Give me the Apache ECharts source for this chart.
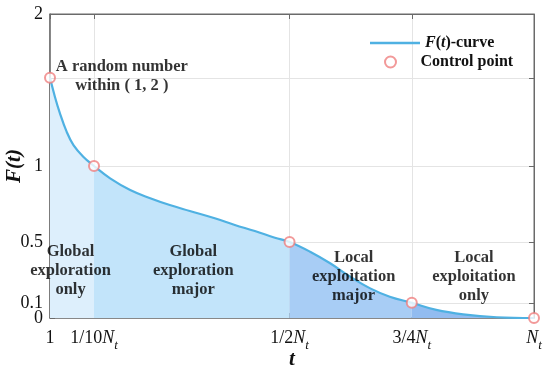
<!DOCTYPE html>
<html>
<head>
<meta charset="utf-8">
<script src="https://cdn.jsdelivr.net/npm/echarts@6/dist/echarts.min.js"></script>
<style>
html,body{margin:0;padding:0;background:#fff;}
#c{width:550px;height:376px;}
</style>
</head>
<body>
<div id="c"></div>
<script>
// ---- data ----
const curveT = [1, 2, 3, 4.4, 5.8, 7.8, 10, 13.3, 17.4, 21.5, 25.5, 29.6, 34.7, 38.8, 42.9, 47, 50, 54.2, 58.3, 62.4, 66.5, 70.5, 75, 80, 85.5, 92.4, 100];
const curveF = [1.58, 1.456, 1.35, 1.226, 1.138, 1.061, 1.0, 0.919, 0.842, 0.788, 0.743, 0.704, 0.656, 0.612, 0.572, 0.528, 0.5, 0.436, 0.36, 0.272, 0.195, 0.14, 0.1, 0.053, 0.024, 0.005, 0];
const controlT = [1, 10, 50, 75, 100];
const controlF = [1.58, 1, 0.5, 0.1, 0];
const regionBounds = [[1, 10], [10, 50], [50, 75], [75, 100]];
const xTickValues = [1, 10, 50, 75, 100];
const xTickLabels = ['1', '1/10{n|N}{s|t}', '1/2{n|N}{s|t}', '3/4{n|N}{s|t}', '{n|N}{s|t}'];
const yTickValues = [0, 0.1, 0.5, 1, 2];
const yTickLabels = ['0', '0.1', '0.5', '1', '2'];
const yExtraTick = [1.58];
const annotationTexts = [
  'A random number\nwithin ( 1, 2 )',
  'Global\nexploration\nonly',
  'Global\nexploration\nmajor',
  'Local\nexploitation\nmajor',
  'Local\nexploitation\nonly'
];
const annotationAnchors = [[15.7, 1.59], [5.2, 0.31], [30.3, 0.31], [63.1, 0.27], [87.7, 0.27]];

// ---- styles ----
const regionColors = ['#ddeffc', '#c2e4fa', '#a8cdf5', '#92bcf0'];
const lineColor = '#4fb1e2';
const pointColor = '#ef8080';
const serif = '"Liberation Serif", "DejaVu Serif", serif';
const axisColor = '#6a6a6a';
const textColor = '#111';

const curve = curveT.map((t, i) => [t, curveF[i]]);
const regionSeries = regionBounds.map((b, k) => ({
  type: 'line',
  name: 'region' + k,
  data: curve.filter(p => p[0] >= b[0] && p[0] <= b[1]),
  smooth: 0.4,
  symbol: 'none',
  silent: true,
  lineStyle: { width: 0 },
  areaStyle: { color: regionColors[k], opacity: 1 },
  z: 1
}));

const labelMap = {};
xTickValues.forEach((v, i) => labelMap[v] = xTickLabels[i]);
const yLabelMap = {};
yTickValues.forEach((v, i) => yLabelMap[v] = yTickLabels[i]);
// labels split over two overlaid axes so the close pair 0 / 0.1 are both kept
const yMainLabels = yTickValues.filter(v => v !== 0.1);
const yAuxLabels = yTickValues.filter(v => v === 0.1);

const xRich = {
  m: { fontFamily: serif, fontSize: 18, lineHeight: 27, color: textColor },
  n: { fontFamily: serif, fontSize: 18, fontStyle: 'italic', lineHeight: 27, color: textColor },
  s: { fontFamily: serif, fontSize: 13, fontStyle: 'italic', lineHeight: 13, padding: [14, 0, 0, 0], color: textColor }
};
const legendText = {
  fontFamily: serif, fontSize: 16, fontWeight: 'bold', color: textColor,
  rich: {
    i: { fontFamily: serif, fontSize: 16, fontWeight: 'bold', fontStyle: 'italic', color: textColor },
    b: { fontFamily: serif, fontSize: 16, fontWeight: 'bold', color: textColor }
  }
};
const yLabelStyle = { fontFamily: serif, fontSize: 18, color: textColor };

const option = {
  animation: false,
  backgroundColor: '#fff',
  grid: { left: 50, right: 16, top: 14, bottom: 58, containLabel: false, outerBoundsMode: 'none',
          show: true, borderColor: axisColor, borderWidth: 1, backgroundColor: 'transparent' },
  legend: [{
    data: [{ name: 'F(t)-curve', icon: 'rect' }],
    left: 365, top: 30,
    itemWidth: 50, itemHeight: 2.5,
    textStyle: legendText,
    formatter: () => '{i|F}{b|(}{i|t}{b|)-curve}'
  }, {
    data: [{ name: 'Control point', icon: 'emptyCircle' }],
    left: 379, top: 49,
    itemWidth: 50, itemHeight: 11,
    textStyle: legendText,
    formatter: name => '{b|' + name + '}'
  }],
  xAxis: [{
    type: 'value', min: 1, max: 100, position: 'bottom',
    name: 't', nameLocation: 'middle', nameGap: 31, nameMoveOverlap: false,
    nameTextStyle: { fontFamily: serif, fontSize: 21, fontWeight: 'bold', fontStyle: 'italic', color: textColor },
    axisLine: { show: true, onZero: false, lineStyle: { color: axisColor, width: 1.5 } },
    axisTick: { show: true, inside: true, length: 5, customValues: xTickValues, lineStyle: { color: axisColor } },
    axisLabel: {
      customValues: xTickValues, margin: 7, hideOverlap: false, showMinLabel: true, showMaxLabel: true,
      formatter: v => labelMap[v] !== undefined ? labelMap[v] : '',
      rich: xRich, fontFamily: serif, fontSize: 18, lineHeight: 27, color: textColor
    },
    splitLine: { show: true, lineStyle: { color: '#e4e4e4', width: 1 } }
  }, {
    type: 'value', min: 1, max: 100, position: 'top',
    axisLine: { show: true, onZero: false, lineStyle: { color: axisColor, width: 1 } },
    axisTick: { show: true, inside: true, length: 5, customValues: xTickValues, lineStyle: { color: axisColor } },
    axisLabel: { show: false },
    splitLine: { show: false }
  }],
  yAxis: [{
    type: 'value', min: 0, max: 2, position: 'left',
    name: 'F(t)', nameLocation: 'middle', nameGap: 25, nameRotate: 90, nameMoveOverlap: false,
    nameTextStyle: { fontFamily: serif, fontSize: 21, fontWeight: 'bold', fontStyle: 'italic', color: textColor },
    axisLine: { show: true, onZero: false, lineStyle: { color: axisColor, width: 1.5 } },
    axisTick: { show: true, inside: true, length: 5, customValues: yTickValues.concat(yExtraTick), lineStyle: { color: axisColor } },
    axisLabel: Object.assign({
      customValues: yMainLabels, margin: 7, hideOverlap: false, showMinLabel: true, showMaxLabel: true,
      formatter: v => yLabelMap[v] !== undefined ? yLabelMap[v] : ''
    }, yLabelStyle),
    splitLine: { show: true, lineStyle: { color: '#e4e4e4', width: 1 } }
  }, {
    type: 'value', min: 0, max: 2, position: 'right',
    axisLine: { show: true, onZero: false, lineStyle: { color: axisColor, width: 1 } },
    axisTick: { show: true, inside: true, length: 5, customValues: yTickValues.concat(yExtraTick), lineStyle: { color: axisColor } },
    axisLabel: { show: false },
    splitLine: { show: false }
  }, {
    type: 'value', min: 0, max: 2, position: 'left', offset: 0,
    axisLine: { show: false, onZero: false },
    axisTick: { show: false },
    axisLabel: Object.assign({
      customValues: yAuxLabels, margin: 7, hideOverlap: false, showMinLabel: true, showMaxLabel: true,
      formatter: v => yLabelMap[v] !== undefined ? yLabelMap[v] : ''
    }, yLabelStyle),
    splitLine: { show: false }
  }],
  series: regionSeries.concat([
    {
      type: 'line', name: 'F(t)-curve',
      data: curve, smooth: 0.4, symbol: 'none',
      lineStyle: { color: lineColor, width: 2.2 },
      itemStyle: { color: lineColor },
      z: 3
    },
    {
      type: 'scatter', name: 'Control point',
      data: controlT.map((t, i) => [t, controlF[i]]),
      symbol: 'emptyCircle', symbolSize: 10,
      itemStyle: { color: pointColor, borderColor: pointColor, borderWidth: 2 },
      z: 4
    },
    {
      type: 'scatter', name: 'annotations', silent: true,
      data: annotationAnchors.map((a, i) => ({ value: a, label: { formatter: annotationTexts[i] } })),
      symbolSize: 0,
      label: {
        show: true, position: 'inside', align: 'center', verticalAlign: 'middle',
        fontFamily: serif, fontSize: 16.5, fontWeight: 'bold', lineHeight: 19, color: '#000'
      },
      z: 5
    }
  ])
};

const chart = echarts.init(document.getElementById('c'), null, { renderer: 'canvas' });
chart.setOption(option);
</script>
</body>
</html>
